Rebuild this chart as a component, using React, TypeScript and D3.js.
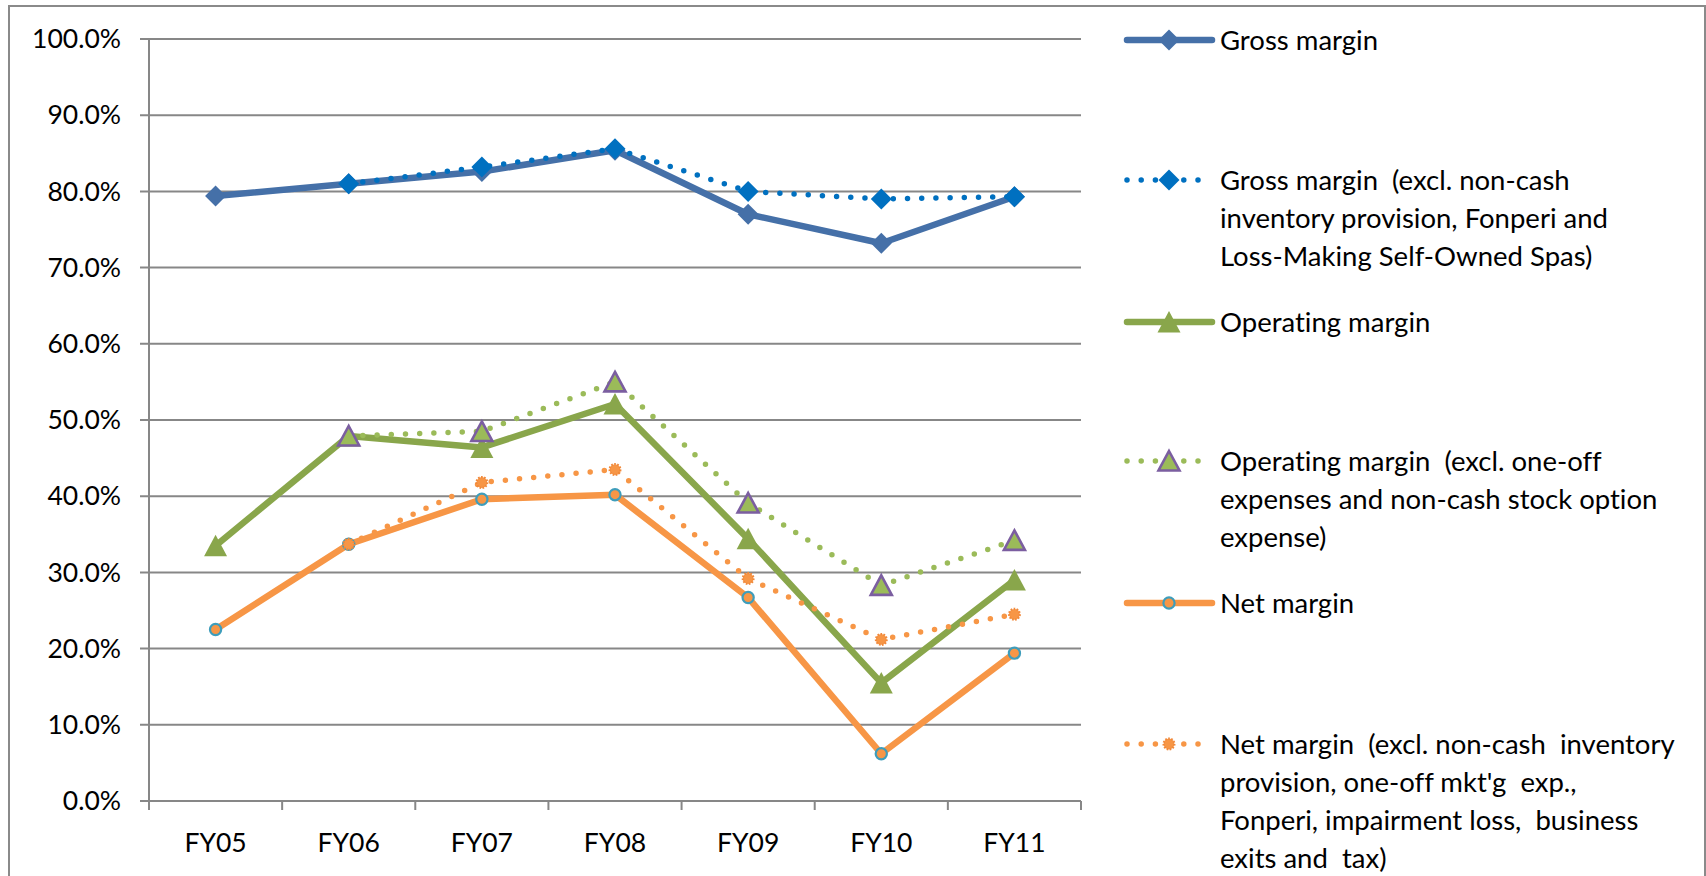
import React from "react";
import * as d3 from "d3";

const categories = ["FY05", "FY06", "FY07", "FY08", "FY09", "FY10", "FY11"];
const grossMargin = [79.4, 81.0, 82.6, 85.4, 77.0, 73.2, 79.3];
const grossMarginAdj = [null, 81.0, 83.2, 85.6, 80.0, 79.0, 79.3];
const operatingMargin = [33.5, 47.9, 46.4, 52.1, 34.4, 15.5, 29.0];
const operatingMarginAdj = [null, 47.9, 48.5, 55.0, 39.1, 28.3, 34.2];
const netMargin = [22.5, 33.7, 39.6, 40.2, 26.7, 6.2, 19.4];
const netMarginAdj = [null, 33.7, 41.8, 43.5, 29.2, 21.2, 24.5];
const yTicks = [0, 10, 20, 30, 40, 50, 60, 70, 80, 90, 100];

const legendLabels = [
  ["Gross margin"],
  ["Gross margin  (excl. non-cash", "inventory provision, Fonperi and", "Loss-Making Self-Owned Spas)"],
  ["Operating margin"],
  ["Operating margin  (excl. one-off", "expenses and non-cash stock option", "expense)"],
  ["Net margin"],
  ["Net margin  (excl. non-cash  inventory", "provision, one-off mkt'g  exp.,", "Fonperi, impairment loss,  business", "exits and  tax)"],
];

type Marker = "diamond" | "triangle" | "triangleOutlined" | "circle" | "circleStar";
type Series = {
  values: (number | null)[];
  color: string;
  dotted: boolean;
  marker: Marker;
  markerFill: string;
  markerStroke?: string;
};

const series: Series[] = [
  { values: grossMargin, color: "#4570A8", dotted: false, marker: "diamond", markerFill: "#4570A8" },
  { values: grossMarginAdj, color: "#0070C0", dotted: true, marker: "diamond", markerFill: "#0070C0" },
  { values: operatingMargin, color: "#89A64B", dotted: false, marker: "triangle", markerFill: "#89A64B" },
  { values: operatingMarginAdj, color: "#9BBB59", dotted: true, marker: "triangleOutlined", markerFill: "#9BBB59", markerStroke: "#7B5EA0" },
  { values: netMargin, color: "#F79646", dotted: false, marker: "circle", markerFill: "#F79646", markerStroke: "#3E9DBB" },
  { values: netMarginAdj, color: "#F79646", dotted: true, marker: "circleStar", markerFill: "#F79646", markerStroke: "#F0883A" },
];

const legendRows = [
  [40],
  [180, 218, 256],
  [322],
  [461, 499, 537],
  [603],
  [744, 782, 820, 858],
];

function MarkerShape({ kind, fill, stroke, x, y }: { kind: Marker; fill: string; stroke?: string; x: number; y: number }) {
  const t = `translate(${x},${y})`;
  if (kind === "diamond") {
    return <path transform={t} d="M0,-10.5L10.5,0L0,10.5L-10.5,0Z" fill={fill} />;
  }
  if (kind === "triangle") {
    return <path transform={t} d="M0,-11L11.5,10.5L-11.5,10.5Z" fill={fill} />;
  }
  if (kind === "triangleOutlined") {
    return <path transform={t} d="M0,-10L10.5,9.5L-10.5,9.5Z" fill={fill} stroke={stroke} strokeWidth={2.6} strokeLinejoin="miter" />;
  }
  if (kind === "circle") {
    return <circle cx={x} cy={y} r={5.6} fill={fill} stroke={stroke} strokeWidth={2.2} />;
  }
  return <circle cx={x} cy={y} r={5.4} fill={fill} stroke={stroke} strokeWidth={2.2} strokeDasharray="1.6 1.4" />;
}

export default function App() {
  const width = 1706;
  const height = 876;
  const x = d3.scaleBand<string>().domain(categories).range([149, 1081]);
  const y = d3.scaleLinear().domain([0, 100]).range([801, 39]);
  const cx = (c: string) => (x(c) as number) + x.bandwidth() / 2;
  const font = "Lato, 'Open Sans', sans-serif";
  const gridColor = "#878787";
  const textStyle = { fontVariantLigatures: "none", fontFeatureSettings: '"liga" 0', whiteSpace: "pre" } as React.CSSProperties;

  const lineGen = d3
    .line<[string, number | null]>()
    .defined((d) => d[1] !== null)
    .x((d) => cx(d[0]))
    .y((d) => y(d[1] as number));

  const boundaries = d3.range(categories.length + 1).map((i) => 149 + i * x.bandwidth());

  const legendLineX0 = 1127;
  const legendLineX1 = 1212;
  const legendMarkerX = 1169;
  const legendTextX = 1220;

  return (
    <svg width={width} height={height} style={{ position: "absolute", left: 0, top: 0, background: "#fff" }}>
      <rect x={0} y={0} width={width} height={height} fill="#fff" />
      <rect x={9} y={6} width={1696} height={900} fill="none" stroke="#8a8a8a" strokeWidth={2} />

      {yTicks.map((t) => (
        <line key={"g" + t} x1={140} x2={1081} y1={y(t)} y2={y(t)} stroke={gridColor} strokeWidth={2} />
      ))}
      <line x1={149} x2={149} y1={y(100)} y2={y(0) + 9} stroke={gridColor} strokeWidth={2} />
      {boundaries.map((b, i) => (
        <line key={"xt" + i} x1={b} x2={b} y1={y(0)} y2={y(0) + 9} stroke={gridColor} strokeWidth={2} />
      ))}

      {yTicks.map((t) => (
        <text key={"yl" + t} x={121} y={y(t)} dy="0.35em" textAnchor="end" fontFamily={font} fontSize={26.5} fill="#000" style={textStyle}>
          {d3.format(".1f")(t) + "%"}
        </text>
      ))}
      {categories.map((c) => (
        <text key={"xl" + c} x={cx(c)} y={843} dy="0.35em" textAnchor="middle" fontFamily={font} fontSize={26.5} fill="#000" style={textStyle}>
          {c}
        </text>
      ))}

      {series.map((s, i) => {
        const pts = categories.map((c, j) => [c, s.values[j]] as [string, number | null]);
        return (
          <g key={"s" + i}>
            <path
              d={lineGen(pts) || ""}
              fill="none"
              stroke={s.color}
              strokeWidth={s.dotted ? 5.5 : 6.5}
              strokeLinecap="round"
              strokeLinejoin="round"
              strokeDasharray={s.dotted ? "0 14.2" : undefined}
            />
            {pts
              .filter((p) => p[1] !== null)
              .map((p) => (
                <MarkerShape key={p[0]} kind={s.marker} fill={s.markerFill} stroke={s.markerStroke} x={cx(p[0])} y={y(p[1] as number)} />
              ))}
          </g>
        );
      })}

      {series.map((s, i) => {
        const rows = legendRows[i];
        const ly = rows[0];
        return (
          <g key={"lg" + i}>
            <line
              x1={legendLineX0}
              x2={legendLineX1}
              y1={ly}
              y2={ly}
              stroke={s.color}
              strokeWidth={s.dotted ? 5.5 : 6.5}
              strokeLinecap="round"
              strokeDasharray={s.dotted ? "0 14.2" : undefined}
            />
            <MarkerShape kind={s.marker} fill={s.markerFill} stroke={s.markerStroke} x={legendMarkerX} y={ly} />
            {legendLabels[i].map((t, k) => (
              <text key={k} x={legendTextX} y={rows[k]} dy="0.35em" fontFamily={font} fontSize={27.5} fill="#000" style={textStyle}>
                {t}
              </text>
            ))}
          </g>
        );
      })}
    </svg>
  );
}
